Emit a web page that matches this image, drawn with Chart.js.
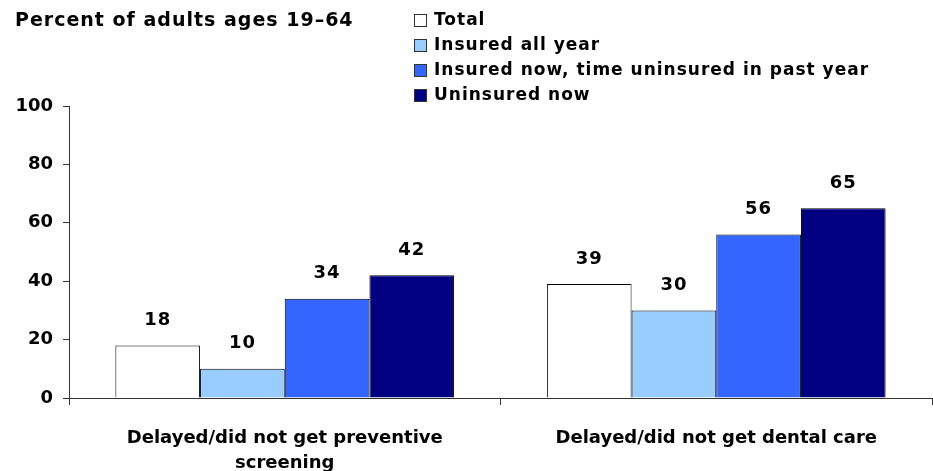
<!DOCTYPE html>
<html>
<head>
<meta charset="utf-8">
<script src="https://cdn.jsdelivr.net/npm/chart.js@4/dist/chart.umd.min.js"></script>
<style>
  html, body { margin: 0; padding: 0; background: #fff; }
  #wrap { width: 933px; height: 471px; position: relative; }
</style>
</head>
<body>
<div id="wrap"><canvas id="chart" width="933" height="471"></canvas></div>
<script>
// chart data
const categories = [
    ["Delayed/did not get preventive", "screening"],
    "Delayed/did not get dental care"
];
const seriesNames = ["Total", "Insured all year", "Insured now, time uninsured in past year", "Uninsured now"];
const totalValues = [18, 39];
const insuredAllYear = [10, 30];
const insuredNowGap = [34, 56];
const uninsuredNow = [42, 65];
const yTicks = [0, 20, 40, 60, 80, 100];

const seriesColors = ["#FFFFFF", "#99CCFF", "#3366FF", "#000080"];
const FONT = "'DejaVu Sans', sans-serif";

// value labels above each bar
const barLabels = {
    id: "barLabels",
    afterDatasetsDraw(chart) {
        const ctx = chart.ctx;
        ctx.save();
        ctx.font = "bold 18px " + FONT;
        ctx.letterSpacing = "1px";
        ctx.fillStyle = "#000";
        ctx.textAlign = "center";
        ctx.textBaseline = "middle";
        chart.data.datasets.forEach((ds, i) => {
            chart.getDatasetMeta(i).data.forEach((bar, j) => {
                ctx.fillText(ds.data[j], bar.x, bar.y - 25);
            });
        });
        ctx.restore();
    }
};

// title and legend in the top area
const headerPlugin = {
    id: "header",
    afterDraw(chart) {
        const ctx = chart.ctx;
        ctx.save();
        ctx.fillStyle = "#000";
        ctx.textBaseline = "middle";
        ctx.textAlign = "left";
        ctx.font = "bold 19px " + FONT;
        ctx.letterSpacing = "1px";
        ctx.fillText("Percent of adults ages 19\u201364", 15, 21);

        ctx.font = "bold 17px " + FONT;
        ctx.letterSpacing = "1px";
        chart.data.datasets.forEach((ds, i) => {
            const y = 20 + i * 25;
            ctx.fillStyle = ds.backgroundColor;
            ctx.fillRect(414, y - 6, 12, 12);
            ctx.strokeStyle = "#333";
            ctx.lineWidth = 1;
            ctx.strokeRect(414.5, y - 5.5, 12, 12);
            ctx.fillStyle = "#000";
            ctx.fillText(ds.label, 434, y + 1);
        });
        ctx.restore();
    }
};

const valueSets = [totalValues, insuredAllYear, insuredNowGap, uninsuredNow];

new Chart(document.getElementById("chart").getContext("2d"), {
    type: "bar",
    data: {
        labels: categories,
        datasets: valueSets.map((vals, i) => ({
            label: seriesNames[i],
            data: vals,
            backgroundColor: seriesColors[i],
            borderColor: "#000",
            borderWidth: 1,
            borderSkipped: "bottom",
            categoryPercentage: 0.785,
            barPercentage: 1.0
        }))
    },
    options: {
        responsive: false,
        animation: false,
        layout: { padding: { top: 106, right: 1, left: 0, bottom: 0 } },
        plugins: {
            legend: { display: false },
            tooltip: { enabled: false }
        },
        scales: {
            x: {
                offset: true,
                grid: {
                    display: true,
                    offset: true,
                    drawOnChartArea: false,
                    drawTicks: true,
                    tickLength: 7,
                    color: "#333"
                },
                border: { display: true, color: "#333", width: 1 },
                ticks: {
                    color: "#000",
                    font: { family: FONT, weight: "bold", size: 18, lineHeight: 1.4 },
                    padding: 21,
                    maxRotation: 0,
                    autoSkip: false
                },
                afterFit(scale) { scale.height = 73; }
            },
            y: {
                min: 0,
                max: 100,
                afterBuildTicks(scale) {
                    scale.ticks = yTicks.map(v => ({ value: v }));
                },
                grid: {
                    display: true,
                    drawOnChartArea: false,
                    drawTicks: true,
                    tickLength: 6,
                    color: "#333"
                },
                border: { display: true, color: "#333", width: 1 },
                ticks: {
                    color: "#000",
                    font: { family: FONT, weight: "bold", size: 18 },
                    padding: 10
                },
                afterFit(scale) { scale.width = 69; }
            }
        }
    },
    plugins: [barLabels, headerPlugin]
});
</script>
</body>
</html>
